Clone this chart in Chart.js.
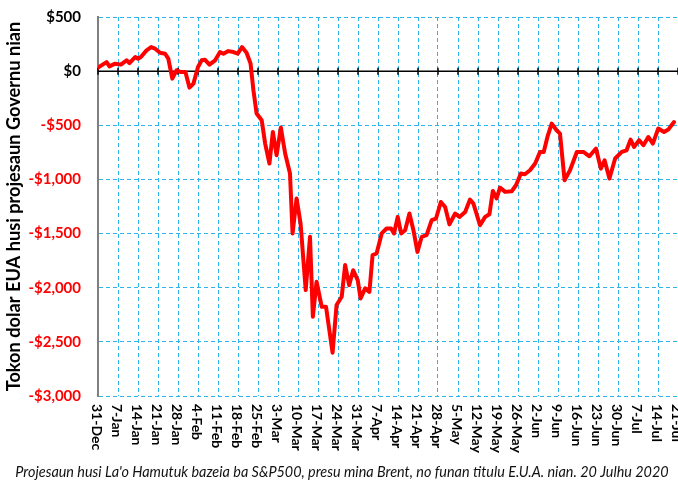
<!DOCTYPE html>
<html>
<head>
<meta charset="utf-8">
<script src="https://cdn.jsdelivr.net/npm/chart.js@4/dist/chart.umd.min.js"></script>
<style>
html,body{margin:0;padding:0;background:#fff;}
#wrap{position:relative;width:678px;height:481px;}
</style>
</head>
<body>
<div id="wrap"><canvas id="c" width="678" height="481"></canvas></div>
<script>
// Week tick labels (one every 7 days starting 31-Dec)
const xTickLabels = ["31-Dec","7-Jan","14-Jan","21-Jan","28-Jan","4-Feb","11-Feb","18-Feb","25-Feb",
  "3-Mar","10-Mar","17-Mar","24-Mar","31-Mar","7-Apr","14-Apr","21-Apr","28-Apr","5-May","12-May",
  "19-May","26-May","2-Jun","9-Jun","16-Jun","23-Jun","30-Jun","7-Jul","14-Jul","21-Jul"];
const tickStepDays = 7;

// Days after 31-Dec-2019
const days = [0,3,4,6,8,10,11,13,14,15,17,18.6,20,21.7,23.5,24.6,26,27.5,29,30.6,32,33.4,35,36.3,37.4,39,41,
  42.7,43.9,45.6,47.4,48.9,50.4,52,53.4,54.4,55.5,57.3,58.5,60,61.2,62.5,64,65.5,67.2,68.1,69.5,70.9,72.7,
  74.2,75.2,76.5,78.3,79.8,82.1,83.5,85.3,86.5,87.9,89.3,90.9,91.9,93.5,95,96.1,97.5,99.3,101,102.6,103.6,
  104.9,106.1,107.5,109,110.4,111.8,113.3,115,116.8,118.3,120,121.5,123,125,126.5,128.5,130.2,131.4,133.7,
  135.5,137,138.2,139.5,140.7,142.5,144.8,146.3,148,149.4,151.2,153,154.7,156,157.3,158.8,160.5,161.7,163.3,
  165.2,167.6,169.9,172,174.3,176,177.3,179,181,183.3,185,186.4,187.6,189.4,190.9,192.6,194.2,196.1,198.1,
  199.6,201.6];
// Projected change, millions of US$
const values = [32,84,44,69,60,100,75,130,115,130,192,222,207,170,161,115,-69,7,-8,-8,-152,-115,38,100,106,60,100,
  176,161,185,176,161,222,170,69,-177,-392,-454,-669,-853,-561,-777,-521,-761,-946,-1499,-1176,-1407,-2022,
  -1530,-2268,-1945,-2176,-2176,-2600,-2160,-2084,-1791,-1976,-1838,-1930,-2099,-2006,-2038,-1699,-1684,-1499,-1453,-1453,-1499,
  -1346,-1499,-1469,-1315,-1469,-1669,-1530,-1515,-1376,-1361,-1208,-1254,-1415,-1315,-1346,-1300,-1186,-1223,-1423,
  -1346,-1321,-1106,-1176,-1075,-1115,-1109,-1054,-946,-952,-915,-853,-746,-746,-608,-484,-546,-577,-1007,
  -915,-746,-746,-786,-715,-900,-823,-992,-807,-746,-731,-632,-700,-638,-684,-608,-669,-530,-562,
  -540,-470];

const yMin = -3000, yMax = 500, yStep = 500;
const yAxisTitle = "Tokon dolar EUA husi projesaun Governu nian";
const caption = "Projesaun husi La'o Hamutuk bazeia ba S&P500, presu mina Brent, no funan titulu E.U.A. nian. 20 Julhu 2020";

const FONT = "Lato, 'Open Sans', sans-serif";
const BLUE = '#2cb4ec';

function fmtMoney(v){
  const s = '$' + Math.abs(v).toLocaleString('en-US');
  return v < 0 ? '-' + s : s;
}

const overlay = {
  id: 'overlay',
  beforeDatasetsDraw(chart){
    const {ctx, chartArea:a, scales:{x, y}} = chart;
    const y0 = y.getPixelForValue(0);
    ctx.save();
    ctx.strokeStyle = '#000';
    ctx.lineWidth = 1.5;
    ctx.beginPath(); ctx.moveTo(a.left, y0); ctx.lineTo(a.right, y0); ctx.stroke();
    x.ticks.forEach(t => {
      const px = x.getPixelForValue(t.value);
      ctx.beginPath(); ctx.moveTo(px, y0 - 3.5); ctx.lineTo(px, y0 + 3.5); ctx.stroke();
    });
    ctx.restore();
  },
  afterDraw(chart){
    const {ctx, chartArea:a, scales:{x}} = chart;
    ctx.save();
    ctx.fillStyle = '#000';
    ctx.font = 'bold 14px ' + FONT;
    ctx.textAlign = 'left';
    ctx.textBaseline = 'middle';
    xTickLabels.forEach((lab, i) => {
      const px = x.getPixelForValue(i * tickStepDays);
      ctx.save();
      ctx.translate(px - 1, a.bottom + 8);
      ctx.rotate(Math.PI / 2);
      ctx.fillText(lab, 0, 0);
      ctx.restore();
    });
    ctx.fillStyle = '#111';
    ctx.font = 'italic 14.4px ' + FONT;
    ctx.textAlign = 'center';
    ctx.textBaseline = 'alphabetic';
    ctx.fillText(caption, 342, 477);
    ctx.restore();
  }
};

new Chart(document.getElementById('c'), {
  type: 'line',
  data: {
    datasets: [{
      data: days.map((d, i) => ({x: d, y: values[i]})),
      borderColor: '#ff0000',
      borderWidth: 4,
      pointRadius: 0,
      tension: 0,
      fill: false,
      borderJoinStyle: 'round',
      borderCapStyle: 'round'
    }]
  },
  plugins: [overlay],
  options: {
    responsive: false,
    animation: false,
    devicePixelRatio: 1,
    layout: {padding: {top: 17, right: 0, bottom: 0, left: 0}},
    plugins: {legend: {display: false}, tooltip: {enabled: false}, title: {display: false}},
    scales: {
      x: {
        type: 'linear',
        min: 0,
        max: (xTickLabels.length - 1) * tickStepDays,
        ticks: {display: false, stepSize: tickStepDays},
        grid: {color: BLUE, lineWidth: 1, drawTicks: false},
        border: {display: false, dash: [4, 3]},
        afterFit(s){ s.height = 85; s.paddingLeft = 0; s.paddingRight = 0; }
      },
      y: {
        min: yMin,
        max: yMax,
        ticks: {
          stepSize: yStep,
          padding: 17,
          font: {family: FONT, weight: 'bold', size: 15},
          color: ctx => ctx.tick && ctx.tick.value < 0 ? '#ff0000' : '#000',
          callback: v => fmtMoney(v)
        },
        grid: {
          color: ctx => ctx.tick && ctx.tick.value === 0 ? 'rgba(0,0,0,0)' : BLUE,
          lineWidth: 1,
          drawTicks: false
        },
        border: {display: true, color: '#808080', width: 2, dash: [4, 3]},
        title: {
          display: true,
          text: yAxisTitle,
          color: '#000',
          font: {family: FONT, weight: 'bold', size: 18.2},
          padding: {top: 3, bottom: 0}
        },
        afterFit(s){ s.width = 98; s.paddingTop = 0; s.paddingBottom = 0; }
      }
    }
  }
});
</script>
</body>
</html>
